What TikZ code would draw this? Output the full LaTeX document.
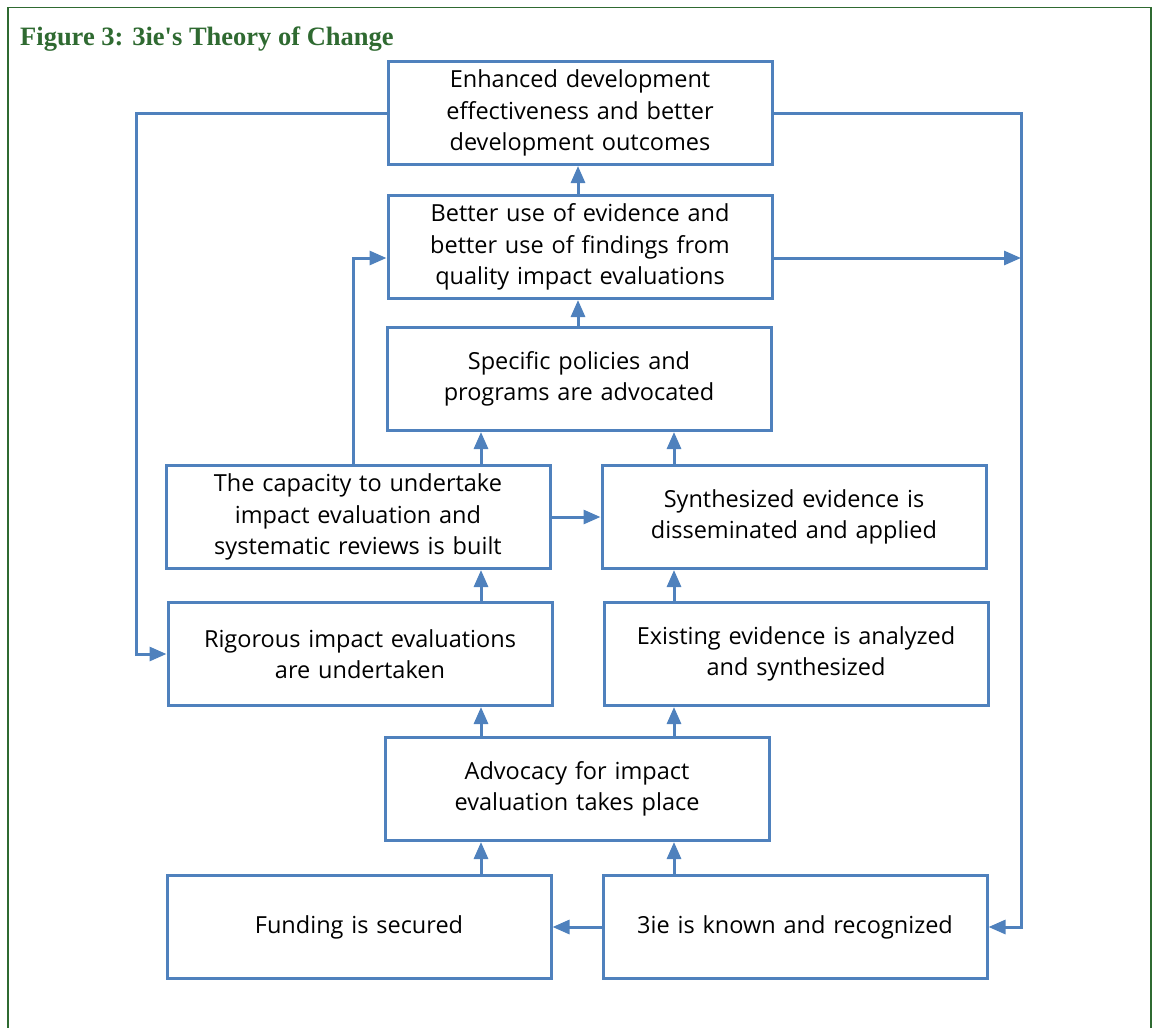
\documentclass[tikz,border=0pt]{standalone}
\usepackage{fontspec}
\setmainfont{Liberation Serif}
\newfontfamily\caixafont{Open Sans}
\usetikzlibrary{arrows.meta}
\definecolor{azul}{RGB}{79,129,189}
\definecolor{verde}{RGB}{47,106,49}
\begin{document}
\begin{tikzpicture}[x=1pt,y=-1pt]
\tikzstyle{caixa}=[draw=azul, line width=3pt, minimum width=384pt, minimum height=103pt, text width=376pt, align=center, inner sep=0, font=\caixafont\fontsize{23.5}{31.5}\selectfont]
\tikzstyle{seta}=[draw=azul, line width=3pt, -{Triangle[length=17pt,width=14pt]}]
\useasboundingbox (0,0) rectangle (1154,1028);
\draw[verde, line width=1.5pt](8,1028)--(8,7.5)--(1151,7.5)--(1151,1028);
\node[anchor=base west, inner sep=0, text=verde, font=\bfseries\fontsize{26.5}{30}\selectfont] (titulo) at (20,45) {Figure 3: 3ie\textquotesingle s Theory of Change};
% caixas
\node[caixa] (A) at (580,113) {Enhanced development\\effectiveness and better\\development outcomes};
\node[caixa] (B) at (580,247) {Better use of evidence and\\better use of findings from\\quality impact evaluations};
\node[caixa] (C) at (579,379) {Specific policies and\\programs are advocated};
\node[caixa] (D) at (358,517) {The capacity to undertake\\impact evaluation and\\systematic reviews is built};
\node[caixa] (E) at (794,517) {Synthesized evidence is\\disseminated and applied};
\node[caixa] (F) at (360,654) {Rigorous impact evaluations\\are undertaken};
\node[caixa] (G) at (796,654) {Existing evidence is analyzed\\and synthesized};
\node[caixa] (H) at (577,789) {Advocacy for impact\\evaluation takes place};
\node[caixa] (I) at (359,927) {Funding is secured};
\node[caixa] (J) at (795,927) {3ie is known and recognized};
% colunas das setas
\coordinate (cm) at (578,0);
\coordinate (cl) at (481,0);
\coordinate (cr) at (674,0);
\coordinate (fe) at (136,0);
\coordinate (fd) at (1021,0);
\foreach \a/\b/\c in {B/A/cm, C/B/cm, D/C/cl, E/C/cr, F/D/cl, G/E/cr, H/F/cl, H/G/cr, I/H/cl, J/H/cr}
\draw[seta](\a.north -| \c)--(\b.south -| \c);
\draw[seta](D.east)--(E.west);
\draw[seta](J.west)--(I.east);
\draw[seta](A.west) -| (fe |- F.west)--(F.west);
\draw[seta](A.east) -| (fd |- J.east)--(J.east);
\draw[seta]([yshift=-11pt]B.east)--([yshift=-11pt]B.east -| fd);
\draw[seta]([xshift=-5pt]D.north) |- ([yshift=-11pt]B.west);
\end{tikzpicture}
\end{document}
